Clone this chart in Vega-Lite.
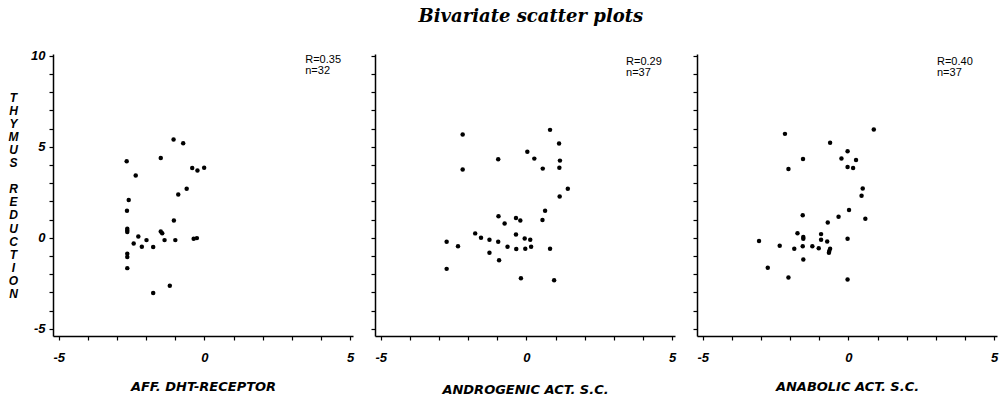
{
  "$schema": "https://vega.github.io/schema/vega-lite/v6.json",
  "background": "white",
  "padding": {"left": 8, "top": 7, "right": 2, "bottom": 0},
  "title": {"text": "Bivariate scatter plots", "font": "DejaVu Serif", "fontSize": 18, "fontStyle": "italic", "fontWeight": "bold", "anchor": "middle", "dx": 28, "offset": 24, "color": "black"},
  "bounds": "flush",
  "spacing": 22,
  "config": {
    "view": {"stroke": null},
    "axis": {"grid": false, "domainColor": "black", "domainWidth": 1.5, "tickColor": "black", "tickWidth": 1.2, "tickSize": 4, "labelColor": "black", "labelFont": "Liberation Sans", "labelFontSize": 13, "labelFontStyle": "italic", "labelFontWeight": "bold", "labelBound": false, "labelFlush": false, "labelOverlap": false, "titleColor": "black", "titleFont": "DejaVu Sans", "titleFontSize": 13, "titleFontStyle": "italic", "titleFontWeight": "bold"},
    "circle": {"color": "black", "opacity": 1, "size": 20}
  },
  "datasets": {
    "p1": [
      {"x": -1.06, "y": 5.40}, {"x": -0.73, "y": 5.20}, {"x": -2.67, "y": 4.21}, {"x": -1.50, "y": 4.38},
      {"x": -2.36, "y": 3.42}, {"x": -0.42, "y": 3.83}, {"x": -0.24, "y": 3.70}, {"x": -0.01, "y": 3.85},
      {"x": -0.61, "y": 2.69}, {"x": -0.90, "y": 2.38}, {"x": -2.60, "y": 2.07}, {"x": -2.66, "y": 1.48},
      {"x": -1.05, "y": 0.95}, {"x": -2.65, "y": 0.49}, {"x": -2.65, "y": 0.31}, {"x": -2.65, "y": 0.40},
      {"x": -2.27, "y": 0.07}, {"x": -2.43, "y": -0.31}, {"x": -1.99, "y": -0.13}, {"x": -2.15, "y": -0.49},
      {"x": -1.76, "y": -0.51}, {"x": -1.50, "y": 0.35}, {"x": -1.45, "y": 0.25}, {"x": -1.37, "y": -0.13},
      {"x": -1.00, "y": -0.13}, {"x": -0.37, "y": -0.05}, {"x": -0.26, "y": -0.02}, {"x": -2.65, "y": -0.88},
      {"x": -2.65, "y": -1.06}, {"x": -2.65, "y": -1.67}, {"x": -1.19, "y": -2.64}, {"x": -1.76, "y": -3.04}
    ],
    "p2": [
      {"x": 0.81, "y": 5.93}, {"x": -2.19, "y": 5.67}, {"x": 1.12, "y": 5.18}, {"x": 0.03, "y": 4.73},
      {"x": 0.27, "y": 4.35}, {"x": -0.97, "y": 4.31}, {"x": 1.15, "y": 4.24}, {"x": 1.13, "y": 3.85},
      {"x": 0.56, "y": 3.80}, {"x": -2.19, "y": 3.75}, {"x": 1.42, "y": 2.69}, {"x": 1.14, "y": 2.27},
      {"x": 0.64, "y": 1.49}, {"x": 0.55, "y": 0.98}, {"x": -0.96, "y": 1.18}, {"x": -0.36, "y": 1.09},
      {"x": -0.21, "y": 0.95}, {"x": -0.75, "y": 0.78}, {"x": -1.76, "y": 0.24}, {"x": -1.56, "y": 0.00},
      {"x": -1.27, "y": -0.11}, {"x": -0.97, "y": -0.22}, {"x": -0.36, "y": 0.18}, {"x": -0.06, "y": -0.04},
      {"x": 0.13, "y": -0.11}, {"x": -2.74, "y": -0.22}, {"x": -2.35, "y": -0.47}, {"x": -0.65, "y": -0.49},
      {"x": -0.35, "y": -0.62}, {"x": -0.04, "y": -0.60}, {"x": 0.16, "y": -0.49}, {"x": 0.81, "y": -0.60},
      {"x": -1.27, "y": -0.82}, {"x": -0.94, "y": -1.24}, {"x": -2.74, "y": -1.71}, {"x": -0.19, "y": -2.22},
      {"x": 0.95, "y": -2.33}
    ],
    "p3": [
      {"x": 0.87, "y": 5.95}, {"x": -2.18, "y": 5.71}, {"x": -0.63, "y": 5.22}, {"x": -0.03, "y": 4.76},
      {"x": -0.24, "y": 4.36}, {"x": 0.26, "y": 4.27}, {"x": -1.56, "y": 4.33}, {"x": -0.03, "y": 3.89},
      {"x": 0.16, "y": 3.84}, {"x": -2.06, "y": 3.78}, {"x": 0.49, "y": 2.71}, {"x": 0.45, "y": 2.31},
      {"x": 0.02, "y": 1.53}, {"x": -0.34, "y": 1.15}, {"x": 0.58, "y": 1.04}, {"x": -1.57, "y": 1.24},
      {"x": -0.71, "y": 0.84}, {"x": -1.75, "y": 0.25}, {"x": -0.94, "y": 0.20}, {"x": -1.55, "y": 0.04},
      {"x": -1.55, "y": -0.05}, {"x": -0.94, "y": -0.11}, {"x": -0.73, "y": -0.20}, {"x": -0.03, "y": -0.05},
      {"x": -3.07, "y": -0.18}, {"x": -2.36, "y": -0.44}, {"x": -1.86, "y": -0.60}, {"x": -1.57, "y": -0.47},
      {"x": -1.24, "y": -0.47}, {"x": -1.02, "y": -0.58}, {"x": -0.63, "y": -0.60}, {"x": -0.66, "y": -0.73},
      {"x": -0.67, "y": -0.82}, {"x": -1.55, "y": -1.20}, {"x": -2.77, "y": -1.65}, {"x": -2.06, "y": -2.18},
      {"x": -0.03, "y": -2.29}
    ]
  },
  "hconcat": [
    {
      "width": 300, "height": 282,
      "layer": [
        {
          "data": {"name": "p1"},
          "mark": {"type": "circle"},
          "encoding": {
            "x": {"field": "x", "type": "quantitative", "scale": {"domain": [-5.2, 5.1], "nice": false, "zero": false},
              "axis": {"values": [-5,-4,-3,-2,-1,0,1,2,3,4,5], "labelOverlap": false, "labelExpr": "datum.value % 5 == 0 ? '' + datum.value : ''", "labelPadding": 11, "title": "AFF. DHT-RECEPTOR", "titlePadding": 16}},
            "y": {"field": "y", "type": "quantitative", "scale": {"domain": [-5.4, 10.1], "nice": false, "zero": false},
              "axis": {"values": [-5,-4,-3,-2,-1,0,1,2,3,4,5,6,7,8,9,10], "labelOverlap": false, "labelExpr": "datum.value % 5 == 0 ? '' + datum.value : ''", "labelPadding": 4,
                "title": ["T","H","Y","M","U","S","\u200b","R","E","D","U","C","T","I","O","N"], "titleAngle": 0, "titleX": -40, "titleY": 43, "titleAlign": "center", "titleBaseline": "middle", "titleLineHeight": 13.1, "titleFont": "Liberation Sans", "titleFontSize": 12}}
          }
        },
        {
          "data": {"values": [{"label": "R=0.35\nn=32"}]},
          "mark": {"type": "text", "align": "left", "baseline": "top", "lineBreak": "\n", "font": "Liberation Sans", "fontSize": 11, "lineHeight": 11, "color": "black"},
          "encoding": {
            "x": {"datum": 3.46, "type": "quantitative",
              "axis": {"values": [-5,-4,-3,-2,-1,0,1,2,3,4,5], "labelOverlap": false, "labelExpr": "datum.value % 5 == 0 ? '' + datum.value : ''", "labelPadding": 11, "title": "AFF. DHT-RECEPTOR", "titlePadding": 16}},
            "y": {"datum": 10.1, "type": "quantitative",
              "axis": {"values": [-5,-4,-3,-2,-1,0,1,2,3,4,5,6,7,8,9,10], "labelOverlap": false, "labelExpr": "datum.value % 5 == 0 ? '' + datum.value : ''", "labelPadding": 4,
                "title": ["T","H","Y","M","U","S","\u200b","R","E","D","U","C","T","I","O","N"], "titleAngle": 0, "titleX": -40, "titleY": 43, "titleAlign": "center", "titleBaseline": "middle", "titleLineHeight": 13.1, "titleFont": "Liberation Sans", "titleFontSize": 12}},
            "text": {"field": "label"}}
        }
      ]
    },
    {
      "width": 300, "height": 282,
      "layer": [
        {
          "data": {"name": "p2"},
          "mark": {"type": "circle"},
          "encoding": {
            "x": {"field": "x", "type": "quantitative", "scale": {"domain": [-5.2, 5.1], "nice": false, "zero": false},
              "axis": {"values": [-5,-4,-3,-2,-1,0,1,2,3,4,5], "labelOverlap": false, "labelExpr": "datum.value % 5 == 0 ? '' + datum.value : ''", "labelPadding": 11, "title": "ANDROGENIC ACT. S.C.", "titlePadding": 19}},
            "y": {"field": "y", "type": "quantitative", "scale": {"domain": [-5.4, 10.1], "nice": false, "zero": false},
              "axis": {"values": [-5,-4,-3,-2,-1,0,1,2,3,4,5,6,7,8,9,10], "labels": false, "title": null}}
          }
        },
        {
          "data": {"values": [{"label": "R=0.29\nn=37"}]},
          "mark": {"type": "text", "align": "left", "baseline": "top", "lineBreak": "\n", "font": "Liberation Sans", "fontSize": 11, "lineHeight": 11, "color": "black"},
          "encoding": {
            "x": {"datum": 3.42, "type": "quantitative",
              "axis": {"values": [-5,-4,-3,-2,-1,0,1,2,3,4,5], "labelOverlap": false, "labelExpr": "datum.value % 5 == 0 ? '' + datum.value : ''", "labelPadding": 11, "title": "ANDROGENIC ACT. S.C.", "titlePadding": 19}},
            "y": {"datum": 10.0, "type": "quantitative",
              "axis": {"values": [-5,-4,-3,-2,-1,0,1,2,3,4,5,6,7,8,9,10], "labels": false, "title": null}},
            "text": {"field": "label"}}
        }
      ]
    },
    {
      "width": 300, "height": 282,
      "layer": [
        {
          "data": {"name": "p3"},
          "mark": {"type": "circle"},
          "encoding": {
            "x": {"field": "x", "type": "quantitative", "scale": {"domain": [-5.2, 5.1], "nice": false, "zero": false},
              "axis": {"values": [-5,-4,-3,-2,-1,0,1,2,3,4,5], "labelOverlap": false, "labelExpr": "datum.value % 5 == 0 ? '' + datum.value : ''", "labelPadding": 11, "title": "ANABOLIC ACT. S.C.", "titlePadding": 16}},
            "y": {"field": "y", "type": "quantitative", "scale": {"domain": [-5.4, 10.1], "nice": false, "zero": false},
              "axis": {"values": [-5,-4,-3,-2,-1,0,1,2,3,4,5,6,7,8,9,10], "labels": false, "title": null}}
          }
        },
        {
          "data": {"values": [{"label": "R=0.40\nn=37"}]},
          "mark": {"type": "text", "align": "left", "baseline": "top", "lineBreak": "\n", "font": "Liberation Sans", "fontSize": 11, "lineHeight": 11, "color": "black"},
          "encoding": {
            "x": {"datum": 3.04, "type": "quantitative",
              "axis": {"values": [-5,-4,-3,-2,-1,0,1,2,3,4,5], "labelOverlap": false, "labelExpr": "datum.value % 5 == 0 ? '' + datum.value : ''", "labelPadding": 11, "title": "ANABOLIC ACT. S.C.", "titlePadding": 16}},
            "y": {"datum": 10.0, "type": "quantitative",
              "axis": {"values": [-5,-4,-3,-2,-1,0,1,2,3,4,5,6,7,8,9,10], "labels": false, "title": null}},
            "text": {"field": "label"}}
        }
      ]
    }
  ]
}
